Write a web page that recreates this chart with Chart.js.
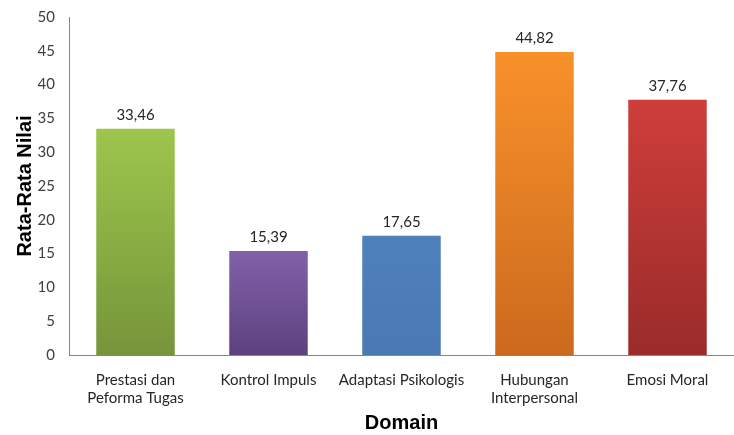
<!DOCTYPE html>
<html>
<head>
<meta charset="utf-8">
<script src="https://cdn.jsdelivr.net/npm/chart.js@4"></script>
<style>
  html, body { margin: 0; padding: 0; background: #fff; }
  #wrap { width: 734px; height: 435px; }
</style>
</head>
<body>
<div id="wrap"><canvas id="chart"></canvas></div>
<script>
// Data
const domains = [
    ['Prestasi dan', 'Peforma Tugas'],
    'Kontrol Impuls',
    'Adaptasi Psikologis',
    ['Hubungan', 'Interpersonal'],
    'Emosi Moral'
];
const averages = [33.46, 15.39, 17.65, 44.82, 37.76];
const yTicks = [0, 5, 10, 15, 20, 25, 30, 35, 40, 45, 50];

// bar shading, top -> bottom
const topColors = ['#9dc64c', '#8161a9', '#4f81bd', '#f9912a', '#ce3e3b'];
const bottomColors = ['#76953a', '#5d417f', '#4a79b3', '#cb6a1e', '#9a2b29'];

function barGradient(ctx) {
    const chart = ctx.chart;
    const area = chart.chartArea;
    if (!area) return topColors[ctx.dataIndex];
    const yScale = chart.scales.y;
    const top = yScale.getPixelForValue(averages[ctx.dataIndex]);
    const g = chart.ctx.createLinearGradient(0, top, 0, area.bottom);
    g.addColorStop(0, topColors[ctx.dataIndex]);
    g.addColorStop(1, bottomColors[ctx.dataIndex]);
    return g;
}

// value labels above bars
const valueLabels = {
    id: 'valueLabels',
    afterDatasetsDraw(chart) {
        const ctx = chart.ctx;
        const meta = chart.getDatasetMeta(0);
        ctx.save();
        ctx.font = '15px Lato';
        ctx.fillStyle = '#262626';
        ctx.textAlign = 'center';
        ctx.textBaseline = 'middle';
        meta.data.forEach((bar, i) => {
            ctx.fillText(averages[i].toFixed(2).replace('.', ','), bar.x, bar.y - 14);
        });
        ctx.restore();
    }
};

new Chart(document.getElementById('chart'), {
    type: 'bar',
    data: {
        labels: domains,
        datasets: [{
            data: averages,
            backgroundColor: barGradient,
            categoryPercentage: 1,
            barPercentage: 0.59
        }]
    },
    options: {
        responsive: true,
        maintainAspectRatio: false,
        animation: false,
        layout: { padding: { top: 17, right: 0, left: 0, bottom: 0 } },
        plugins: {
            legend: { display: false },
            tooltip: { enabled: false }
        },
        scales: {
            x: {
                grid: { display: false, drawTicks: false },
                border: { color: '#868686', width: 1 },
                ticks: {
                    color: '#262626',
                    font: { family: 'Lato', size: 15 },
                    padding: 16,
                    maxRotation: 0
                },
                title: {
                    display: true,
                    text: 'Domain',
                    color: '#000',
                    font: { family: 'Liberation Sans', size: 20, weight: 'bold' },
                    padding: 0
                },
                afterFit(scale) {
                    scale.height = 80;
                    scale.paddingLeft = 0;
                    scale.paddingRight = 0;
                }
            },
            y: {
                min: 0,
                max: 50,
                afterBuildTicks(scale) { scale.ticks = yTicks.map(v => ({ value: v })); },
                grid: { display: false, drawTicks: false },
                border: { color: '#868686', width: 1 },
                ticks: {
                    color: '#404040',
                    font: { family: 'Lato', size: 15 },
                    padding: 14
                },
                title: {
                    display: true,
                    text: 'Rata-Rata Nilai',
                    color: '#000',
                    font: { family: 'Liberation Sans', size: 20, weight: 'bold' },
                    padding: { top: 13, bottom: 0 }
                },
                afterFit(scale) {
                    scale.width = 69;
                    scale.paddingTop = 0;
                    scale.paddingBottom = 0;
                }
            }
        }
    },
    plugins: [valueLabels]
});
</script>
</body>
</html>
